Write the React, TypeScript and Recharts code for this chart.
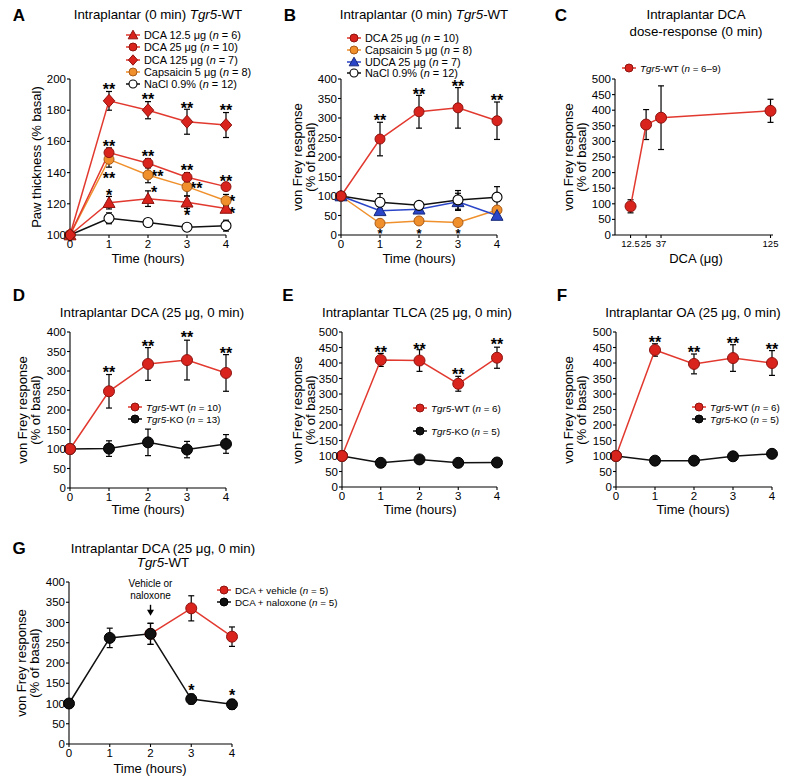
import React from "react";
import { ComposedChart, Line, Scatter, XAxis, YAxis, ErrorBar } from "recharts";

const FONT = '"Liberation Sans", Arial, Helvetica, sans-serif';

const RED = "#d9231d";
const RED_EDGE = "#8e1410";
const RED_LINE = "#e2392f";
const ORANGE = "#f0902c";
const ORANGE_EDGE = "#a85a18";
const BLUE = "#2a45c8";
const BLUE_EDGE = "#16287a";
const BLACK = "#111";

const hours = [0, 1, 2, 3, 4];

// A: paw thickness
const aTicks = [100, 120, 140, 160, 180, 200];
const aDca12 = [100, 120.7, 123.3, 121, 117];
const aDca12Err = [0, 4, 5, 4, 2];
const aDca25 = [100, 152.8, 146, 137, 131];
const aDca25Err = [0, 3, 3, 3, 2];
const aDca125 = [100, 186, 180, 172.6, 170.5];
const aDca125Err = [0, 6, 5.5, 8, 8];
const aCaps = [100, 148.5, 138.5, 131, 122];
const aCapsErr = [0, 5, 5, 6, 4];
const aNacl = [100, 110.7, 108, 105, 106];
const aNaclErr = [0, 3.5, 1.5, 1, 3.5];
const aStars = [
  { t: 1, y: 195.5, s: "**" }, { t: 2, y: 189, s: "**" }, { t: 3, y: 183.5, s: "**" }, { t: 4, y: 182, s: "**" },
  { t: 1, y: 158.8, s: "**" }, { t: 2, y: 152.4, s: "**" }, { t: 3, y: 143.8, s: "**" }, { t: 4, y: 136.8, s: "**" },
  { t: 1, y: 138.5, s: "**" }, { t: 2, y: 139.5, s: "**", side: "r" }, { t: 3, y: 132, s: "**", side: "r" }, { t: 4, y: 124, s: "*", side: "r" },
  { t: 1, y: 127.8, s: "*" }, { t: 2, y: 129.5, s: "*", side: "r" }, { t: 3, y: 114.5, s: "*" }, { t: 4, y: 116, s: "*", side: "r" },
];

// B: von Frey, several agents
const vfTicks = [0, 50, 100, 150, 200, 250, 300, 350, 400];
const bDca = [100, 246, 316, 326, 293];
const bDcaErr = [0, 43, 42, 52, 48];
const bCaps = [100, 30, 36, 32, 64];
const bCapsErr = [0, 5, 5, 5, 6];
const bUdca = [100, 62, 66, 85, 50];
const bUdcaErr = [0, 5, 5, 22, 5];
const bNacl = [100, 84, 76, 90, 97];
const bNaclErr = [0, 22, 8, 24, 27];
const bStars = [
  { t: 1, y: 302, s: "**" }, { t: 2, y: 370, s: "**" }, { t: 3, y: 390, s: "**" }, { t: 4, y: 353, s: "**" },
  { t: 1, y: 12, s: "*", small: true }, { t: 2, y: 12, s: "*", small: true }, { t: 3, y: 12, s: "*", small: true },
];

// C: dose-response
const vf500Ticks = [0, 50, 100, 150, 200, 250, 300, 350, 400, 450, 500];
const cDoses = [12.5, 25, 37, 125];
const cVals = [92, 354, 376, 398];
const cErr = [21, 48, 102, 37];

// D: DCA, WT vs KO
const dWt = [100, 248, 318, 328, 295];
const dWtErr = [0, 43, 42, 51, 47];
const dKo = [100, 101, 117, 98.5, 113];
const dKoErr = [0, 20, 34, 21, 24];
const dStars = [{ t: 1, y: 304, s: "**" }, { t: 2, y: 372, s: "**" }, { t: 3, y: 394, s: "**" }, { t: 4, y: 354, s: "**" }];

// E: TLCA
const eWt = [100, 410, 408, 333, 417];
const eWtErr = [0, 21, 35, 24, 34];
const eKo = [100, 78, 89, 78, 79];
const eKoErr = [0, 3, 3, 3, 3];
const eStars = [{ t: 1, y: 446, s: "**" }, { t: 2, y: 456, s: "**" }, { t: 3, y: 375, s: "**" }, { t: 4, y: 470, s: "**" }];

// F: OA
const fWt = [100, 442, 397, 416, 400];
const fWtErr = [0, 20, 32, 43, 40];
const fKo = [100, 85, 85, 99, 107];
const fKoErr = [0, 3, 3, 3, 3];
const fStars = [{ t: 1, y: 478, s: "**" }, { t: 2, y: 445, s: "**" }, { t: 3, y: 473, s: "**" }, { t: 4, y: 456, s: "**" }];

// G: naloxone
const gNal = [100, 262, 272, 111, 98];
const gNalErr = [0, 24, 26, 12, 12];
const gVehHours = [2, 3, 4];
const gVeh = [272, 335, 265];
const gVehErr = [26, 31, 24];
const gStars = [{ t: 3, y: 140, s: "*" }, { t: 4, y: 128, s: "*" }];
const gArrow = [{ t: 2, y: 319 }];

type Row = { t: number; v: number; e: number };
const rows = (ts: number[], vs: number[], es: number[]): Row[] =>
  ts.map((t, i) => ({ t, v: vs[i], e: es[i] }));

type Mk = "circle" | "open" | "tri" | "diamond";

function mark(kind: Mk, cx: number, cy: number, fill: string, edge: string, r: number, key?: any) {
  if (kind === "tri") {
    const h = r * 1.2;
    return <polygon key={key} points={`${cx},${cy - h} ${cx + h},${cy + h * 0.8} ${cx - h},${cy + h * 0.8}`} fill={fill} stroke={edge} strokeWidth={1} />;
  }
  if (kind === "diamond") {
    return <polygon key={key} points={`${cx},${cy - r * 1.3} ${cx + r * 1.15},${cy} ${cx},${cy + r * 1.3} ${cx - r * 1.15},${cy}`} fill={fill} stroke={edge} strokeWidth={1} />;
  }
  if (kind === "open") return <circle key={key} cx={cx} cy={cy} r={r} fill="#fff" stroke="#000" strokeWidth={1.1} />;
  return <circle key={key} cx={cx} cy={cy} r={r} fill={fill} stroke={edge} strokeWidth={1} />;
}

type Spec = { data: Row[]; line: string; fill: string; edge: string; kind: Mk; r?: number };

function series(s: Spec, key: string) {
  const r = s.r ?? 5;
  return (
    <Line
      key={key}
      data={s.data}
      dataKey="v"
      type="linear"
      stroke={s.line}
      strokeWidth={1.5}
      isAnimationActive={false}
      dot={(p: any) => mark(s.kind, p.cx, p.cy, s.fill, s.edge, r, p.index)}
      activeDot={false}
    >
      <ErrorBar dataKey="e" width={3} stroke="#000" strokeWidth={1.2} direction="y" />
    </Line>
  );
}

const starShape = (p: any) => {
  const right = p.payload.side === "r";
  const size = p.payload.small ? 13 : 16;
  return (
    <text x={p.cx + (right ? 3 : 0)} y={p.cy + size * 0.56} textAnchor={right ? "start" : "middle"} fontSize={size} fontWeight={700} fontFamily={FONT} fill="#000">
      {p.payload.s}
    </text>
  );
};

function stars(data: any[], key = "stars") {
  return <Scatter key={key} data={data} dataKey="y" shape={starShape} isAnimationActive={false} legendType="none" />;
}

const arrowShape = (p: any) => (
  <g fontFamily={FONT} fontSize={10} fill="#000">
    <text x={p.cx} y={p.cy - 28} textAnchor="middle">Vehicle or</text>
    <text x={p.cx} y={p.cy - 16} textAnchor="middle">naloxone</text>
    <line x1={p.cx} y1={p.cy - 10} x2={p.cx} y2={p.cy - 4} stroke="#000" strokeWidth={1.4} />
    <polygon points={`${p.cx - 3.5},${p.cy - 5} ${p.cx + 3.5},${p.cy - 5} ${p.cx},${p.cy + 1}`} fill="#000" />
  </g>
);

const tickStyle = { fontSize: 11.5, fill: "#000", fontFamily: FONT };

function xAxis(domain: [number, number], ticks: number[], size = 11.5) {
  return (
    <XAxis
      key="x"
      type="number"
      dataKey="t"
      domain={domain}
      ticks={ticks}
      interval={0}
      tickSize={3}
      tickMargin={2}
      height={20}
      axisLine={{ stroke: "#000", strokeWidth: 1.1 }}
      tickLine={{ stroke: "#000", strokeWidth: 1.1 }}
      tick={{ ...tickStyle, fontSize: size }}
    />
  );
}

function yAxis(domain: [number, number], ticks: number[]) {
  return (
    <YAxis
      key="y"
      type="number"
      domain={domain}
      ticks={ticks}
      interval={0}
      tickSize={3}
      tickMargin={1}
      width={40}
      axisLine={{ stroke: "#000", strokeWidth: 1.1 }}
      tickLine={{ stroke: "#000", strokeWidth: 1.1 }}
      tick={tickStyle}
    />
  );
}

type Box = { l: number; t: number; r: number; b: number };
const PAD_L = 62, PAD_T = 26, PAD_R = 26, PAD_B = 34;

function Panel({ box, children }: { box: Box; children: React.ReactNode }) {
  const width = box.r - box.l + PAD_L + PAD_R;
  const height = box.b - box.t + PAD_T + PAD_B;
  return (
    <div style={{ position: "absolute", left: box.l - PAD_L, top: box.t - PAD_T }}>
      <ComposedChart width={width} height={height} margin={{ top: PAD_T, left: PAD_L - 40, right: PAD_R, bottom: PAD_B - 20 }}>
        {children}
      </ComposedChart>
    </div>
  );
}

function Txt({ x, y, size = 13.3, bold, children }: { x: number; y: number; size?: number; bold?: boolean; children: React.ReactNode }) {
  return (
    <div
      style={{
        position: "absolute", left: x, top: y, transform: "translate(-50%, -50%)",
        fontSize: size, fontWeight: bold ? 900 : 400, whiteSpace: "nowrap", lineHeight: 1,
      }}
    >
      {children}
    </div>
  );
}

function YLabel({ x, y, lines }: { x: number; y: number; lines: string[] }) {
  return (
    <div
      style={{
        position: "absolute", left: x, top: y, transform: "translate(-50%, -50%) rotate(-90deg)",
        fontSize: 13, whiteSpace: "nowrap", lineHeight: "12.5px", textAlign: "center",
      }}
    >
      {lines.map((l) => <div key={l}>{l}</div>)}
    </div>
  );
}

type LegItem = { label: React.ReactNode; line: string; fill: string; edge: string; kind: Mk };

function Leg({ x, y, gap, items, size = 9.8 }: { x: number; y: number; gap: number; items: LegItem[]; size?: number }) {
  return (
    <>
      {items.map((it, i) => (
        <div key={i} style={{ position: "absolute", left: x - 8, top: y + i * gap - 6, height: 12, display: "flex", alignItems: "center", fontSize: size, whiteSpace: "nowrap" }}>
          <svg width={16} height={12} style={{ marginRight: 3 }}>
            <line x1={1} y1={6} x2={15} y2={6} stroke={it.line} strokeWidth={1.5} />
            {mark(it.kind, 8, 6, it.fill, it.edge, 4)}
          </svg>
          <span>{it.label}</span>
        </div>
      ))}
    </>
  );
}

const N = ({ v }: { v: string }) => <>(<i>n</i> = {v})</>;
const Tgr = ({ s }: { s: string }) => <><i>Tgr5</i>-{s}</>;

const redItem = (label: React.ReactNode, kind: Mk = "circle"): LegItem => ({ label, line: RED_LINE, fill: RED, edge: RED_EDGE, kind });
const blackItem = (label: React.ReactNode): LegItem => ({ label, line: BLACK, fill: BLACK, edge: "#000", kind: "circle" });

export default function App() {
  const red = (d: Row[], kind: Mk = "circle"): Spec => ({ data: d, line: RED_LINE, fill: RED, edge: RED_EDGE, kind });
  const blk = (d: Row[]): Spec => ({ data: d, line: BLACK, fill: BLACK, edge: "#000", kind: "circle", r: 5.5 });
  const orange = (d: Row[]): Spec => ({ data: d, line: ORANGE, fill: ORANGE, edge: ORANGE_EDGE, kind: "circle" });
  const open = (d: Row[]): Spec => ({ data: d, line: BLACK, fill: "#fff", edge: "#000", kind: "open" });

  return (
    <div style={{ position: "absolute", left: 0, top: 0, width: 797, height: 781, background: "#fff", fontFamily: FONT, color: "#000" }}>
      {/* A */}
      <Panel box={{ l: 70, t: 79, r: 226, b: 235 }}>
        {xAxis([0, 4], hours)}
        {yAxis([100, 200], aTicks)}
        {series(open(rows(hours, aNacl, aNaclErr)), "nacl")}
        {series(red(rows(hours, aDca12, aDca12Err), "tri"), "d12")}
        {series(orange(rows(hours, aCaps, aCapsErr)), "caps")}
        {series(red(rows(hours, aDca25, aDca25Err)), "d25")}
        {series(red(rows(hours, aDca125, aDca125Err), "diamond"), "d125")}
        {stars(aStars)}
      </Panel>
      {/* B */}
      <Panel box={{ l: 341, t: 79, r: 497, b: 235 }}>
        {xAxis([0, 4], hours)}
        {yAxis([0, 400], vfTicks)}
        {series(orange(rows(hours, bCaps, bCapsErr)), "caps")}
        {series({ data: rows(hours, bUdca, bUdcaErr), line: BLUE, fill: BLUE, edge: BLUE_EDGE, kind: "tri" }, "udca")}
        {series(open(rows(hours, bNacl, bNaclErr)), "nacl")}
        {series(red(rows(hours, bDca, bDcaErr)), "dca")}
        {stars(bStars)}
      </Panel>
      {/* C */}
      <Panel box={{ l: 615, t: 79, r: 773, b: 235 }}>
        {xAxis([0, 127], cDoses, 9.5)}
        {yAxis([0, 500], vf500Ticks)}
        {series({ ...red(rows(cDoses, cVals, cErr)), r: 5.5 }, "dose")}
      </Panel>
      {/* D */}
      <Panel box={{ l: 70, t: 332, r: 226, b: 488 }}>
        {xAxis([0, 4], hours)}
        {yAxis([0, 400], vfTicks)}
        {series(blk(rows(hours, dKo, dKoErr)), "ko")}
        {series({ ...red(rows(hours, dWt, dWtErr)), r: 5.5 }, "wt")}
        {stars(dStars)}
      </Panel>
      {/* E */}
      <Panel box={{ l: 342, t: 332, r: 497, b: 487 }}>
        {xAxis([0, 4], hours)}
        {yAxis([0, 500], vf500Ticks)}
        {series(blk(rows(hours, eKo, eKoErr)), "ko")}
        {series({ ...red(rows(hours, eWt, eWtErr)), r: 5.5 }, "wt")}
        {stars(eStars)}
      </Panel>
      {/* F */}
      <Panel box={{ l: 616, t: 332, r: 772, b: 487 }}>
        {xAxis([0, 4], hours)}
        {yAxis([0, 500], vf500Ticks)}
        {series(blk(rows(hours, fKo, fKoErr)), "ko")}
        {series({ ...red(rows(hours, fWt, fWtErr)), r: 5.5 }, "wt")}
        {stars(fStars)}
      </Panel>
      {/* G */}
      <Panel box={{ l: 69, t: 582, r: 232, b: 744 }}>
        {xAxis([0, 4], hours)}
        {yAxis([0, 400], vfTicks)}
        {series({ ...red(rows(gVehHours, gVeh, gVehErr)), r: 5.5 }, "veh")}
        {series(blk(rows(hours, gNal, gNalErr)), "nal")}
        {stars(gStars)}
        <Scatter key="arrow" data={gArrow} dataKey="y" shape={arrowShape} isAnimationActive={false} legendType="none" />
      </Panel>

      {/* panel letters */}
      <Txt x={19} y={15} size={17} bold>A</Txt>
      <Txt x={290} y={15} size={17} bold>B</Txt>
      <Txt x={561} y={15} size={17} bold>C</Txt>
      <Txt x={19} y={295} size={17} bold>D</Txt>
      <Txt x={288} y={295} size={17} bold>E</Txt>
      <Txt x={562} y={295} size={17} bold>F</Txt>
      <Txt x={19} y={548} size={17} bold>G</Txt>

      {/* titles */}
      <Txt x={158} y={15}>Intraplantar (0 min) <Tgr s="WT" /></Txt>
      <Txt x={424} y={15}>Intraplantar (0 min) <Tgr s="WT" /></Txt>
      <Txt x={696} y={15}>Intraplantar DCA</Txt>
      <Txt x={696} y={32}>dose-response (0 min)</Txt>
      <Txt x={152} y={313}>Intraplantar DCA (25 μg, 0 min)</Txt>
      <Txt x={417} y={313}>Intraplantar TLCA (25 μg, 0 min)</Txt>
      <Txt x={693} y={313}>Intraplantar OA (25 μg, 0 min)</Txt>
      <Txt x={163} y={549}>Intraplantar DCA (25 μg, 0 min)</Txt>
      <Txt x={163} y={563}><Tgr s="WT" /></Txt>

      {/* axis titles */}
      <YLabel x={37} y={157} lines={["Paw thickness (% basal)"]} />
      <YLabel x={304} y={157} lines={["von Frey response", "(% of basal)"]} />
      <YLabel x={575} y={157} lines={["von Frey response", "(% of basal)"]} />
      <YLabel x={29} y={410} lines={["von Frey response", "(% of basal)"]} />
      <YLabel x={304} y={410} lines={["von Frey response", "(% of basal)"]} />
      <YLabel x={575} y={410} lines={["von Frey response", "(% of basal)"]} />
      <YLabel x={28} y={663} lines={["von Frey response", "(% of basal)"]} />
      <Txt x={148} y={258} size={13}>Time (hours)</Txt>
      <Txt x={419} y={258} size={13}>Time (hours)</Txt>
      <Txt x={696} y={258} size={13}>DCA (μg)</Txt>
      <Txt x={148} y={509} size={13}>Time (hours)</Txt>
      <Txt x={420} y={509} size={13}>Time (hours)</Txt>
      <Txt x={693} y={509} size={13}>Time (hours)</Txt>
      <Txt x={150} y={768} size={13}>Time (hours)</Txt>

      {/* legends */}
      <Leg x={133} y={35} gap={12.3} size={10.9} items={[
        redItem(<>DCA 12.5 μg <N v="6" /></>, "tri"),
        redItem(<>DCA 25 μg <N v="10" /></>),
        redItem(<>DCA 125 μg <N v="7" /></>, "diamond"),
        { label: <>Capsaicin 5 μg <N v="8" /></>, line: ORANGE, fill: ORANGE, edge: ORANGE_EDGE, kind: "circle" },
        { label: <>NaCl 0.9% <N v="12" /></>, line: BLACK, fill: "#fff", edge: "#000", kind: "open" },
      ]} />
      <Leg x={354} y={38} gap={11.8} size={10.9} items={[
        redItem(<>DCA 25 μg <N v="10" /></>),
        { label: <>Capsaicin 5 μg <N v="8" /></>, line: ORANGE, fill: ORANGE, edge: ORANGE_EDGE, kind: "circle" },
        { label: <>UDCA 25 μg <N v="7" /></>, line: BLUE, fill: BLUE, edge: BLUE_EDGE, kind: "tri" },
        { label: <>NaCl 0.9% <N v="12" /></>, line: BLACK, fill: "#fff", edge: "#000", kind: "open" },
      ]} />
      <Leg x={629} y={68} gap={12} items={[redItem(<><Tgr s="WT" /> <N v="6–9" /></>)]} />
      <Leg x={135} y={407} gap={12} items={[redItem(<><Tgr s="WT" /> <N v="10" /></>), blackItem(<><Tgr s="KO" /> <N v="13" /></>)]} />
      <Leg x={420} y={408} gap={23} items={[redItem(<><Tgr s="WT" /> <N v="6" /></>), blackItem(<><Tgr s="KO" /> <N v="5" /></>)]} />
      <Leg x={699} y={407} gap={12} items={[redItem(<><Tgr s="WT" /> <N v="6" /></>), blackItem(<><Tgr s="KO" /> <N v="5" /></>)]} />
      <Leg x={224} y={590} gap={12} items={[redItem(<>DCA + vehicle <N v="5" /></>), blackItem(<>DCA + naloxone <N v="5" /></>)]} />
    </div>
  );
}
